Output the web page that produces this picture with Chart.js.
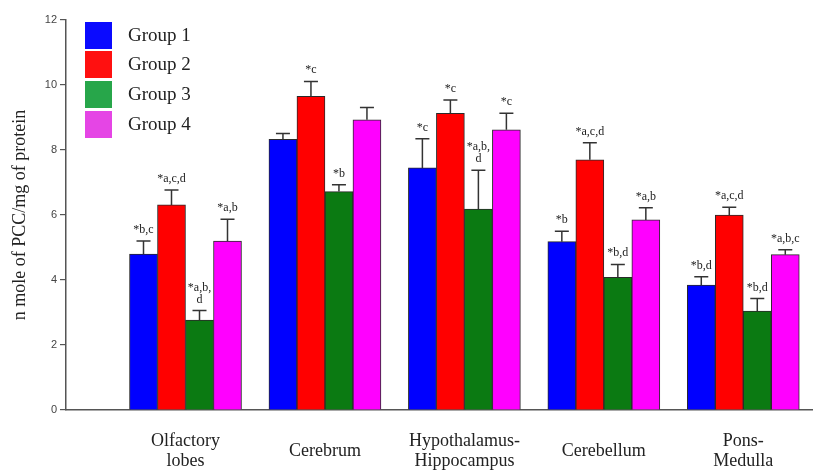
<!DOCTYPE html>
<html>
<head>
<meta charset="utf-8">
<script src="https://cdn.jsdelivr.net/npm/chart.js@4"></script>
<style>
  body { margin: 0; background: #fff; }
  #wrap { width: 813px; height: 475px; }
</style>
</head>
<body>
<div id="wrap"><canvas id="grafico"></canvas></div>
<script>
// categorias (regioes do cerebro)
const categories = [['Olfactory', 'lobes'], 'Cerebrum', ['Hypothalamus-', 'Hippocampus'], 'Cerebellum', ['Pons-', 'Medulla']];
const positions = [1, 2, 3, 4, 5];
const yTicks = [0, 2, 4, 6, 8, 10, 12];

// valores medios de cada grupo
const group1 = [4.80, 8.33, 7.45, 5.18, 3.84];
const group2 = [6.31, 9.65, 9.13, 7.70, 6.00];
const group3 = [2.77, 6.72, 6.18, 4.08, 3.04];
const group4 = [5.20, 8.93, 8.62, 5.85, 4.78];

// barras de erro (so para cima)
const group1Err = [0.40, 0.18, 0.90, 0.32, 0.26];
const group2Err = [0.46, 0.46, 0.41, 0.52, 0.24];
const group3Err = [0.29, 0.21, 1.20, 0.40, 0.39];
const group4Err = [0.67, 0.38, 0.51, 0.37, 0.15];

// letras de significancia
const group1Sig = ['*b,c', '', '*c', '*b', '*b,d'];
const group2Sig = ['*a,c,d', '*c', '*c', '*a,c,d', '*a,c,d'];
const group3Sig = [['*a,b,', 'd'], '*b', ['*a,b,', 'd'], '*b,d', '*b,d'];
const group4Sig = ['*a,b', '', '*c', '*a,b', '*a,b,c'];

const serif = "'Liberation Serif', 'DejaVu Serif', serif";

function pontos(valores) {
	return valores.map((v, i) => ({ x: positions[i], y: v }));
}

function dataset(label, valores, erros, sig, cor, corLegenda) {
	return {
		label: label,
		data: pontos(valores),
		errors: erros,
		sig: sig,
		legendColor: corLegenda,
		backgroundColor: cor,
		borderColor: '#2a2a2a',
		borderWidth: 1,
		barThickness: 28
	};
}

// Plugin para barras de erro e letras
const errorBars = {
	id: 'errorBars',
	afterDatasetsDraw(chart) {
		const ctx = chart.ctx;
		const y = chart.scales.y;
		chart.data.datasets.forEach((ds, di) => {
			const meta = chart.getDatasetMeta(di);
			meta.data.forEach((bar, i) => {
				const top = y.getPixelForValue(ds.data[i].y + ds.errors[i]);
				ctx.save();
				ctx.strokeStyle = '#333';
				ctx.lineWidth = 1.5;
				ctx.beginPath();
				ctx.moveTo(bar.x, bar.y);
				ctx.lineTo(bar.x, top);
				ctx.moveTo(bar.x - 7, top);
				ctx.lineTo(bar.x + 7, top);
				ctx.stroke();

				let linhas = ds.sig[i];
				if (!Array.isArray(linhas)) linhas = [linhas];
				ctx.fillStyle = '#222';
				ctx.font = '12px ' + serif;
				ctx.textAlign = 'center';
				ctx.textBaseline = 'alphabetic';
				for (let k = 0; k < linhas.length; k++) {
					const base = top - 8 - (linhas.length - 1 - k) * 12;
					ctx.fillText(linhas[k], bar.x, base);
				}
				ctx.restore();
			});
		});
	}
};

// Legenda desenhada dentro da area do grafico
const legendaCustom = {
	id: 'legendaCustom',
	afterDraw(chart) {
		const ctx = chart.ctx;
		const centros = [35, 64, 94, 124];
		chart.data.datasets.forEach((ds, i) => {
			ctx.save();
			ctx.fillStyle = ds.legendColor;
			ctx.fillRect(85, centros[i] - 13, 27, 27);
			ctx.fillStyle = '#222';
			ctx.font = '19px ' + serif;
			ctx.textAlign = 'left';
			ctx.textBaseline = 'middle';
			ctx.fillText(ds.label, 128, centros[i] + 1);
			ctx.restore();
		});
	}
};

let grafico = document.getElementById('grafico').getContext('2d');

let chart = new Chart(grafico, {
	type: 'bar',

	data: {
		datasets: [
			dataset('Group 1', group1, group1Err, group1Sig, '#0000ff', '#0a0aff'),
			dataset('Group 2', group2, group2Err, group2Sig, '#ff0000', '#ff1010'),
			dataset('Group 3', group3, group3Err, group3Sig, '#0b7a12', '#27a64a'),
			dataset('Group 4', group4, group4Err, group4Sig, '#ff00ff', '#e545e5')
		]
	},

	options: {
		responsive: true,
		maintainAspectRatio: false,
		animation: false,
		layout: { padding: { top: 20, right: 0, left: 0, bottom: 0 } },
		plugins: {
			legend: { display: false },
			tooltip: { enabled: false }
		},
		scales: {
			x: {
				type: 'linear',
				min: 0.143,
				max: 5.5,
				offset: false,
				afterBuildTicks(scale) {
					scale.ticks = positions.map(p => ({ value: p }));
				},
				afterFit(scale) {
					scale.height = 65;
				},
				grid: { display: false },
				border: { display: true, color: '#555', width: 1.5 },
				ticks: {
					autoSkip: false,
					maxRotation: 0,
					padding: 23,
					crossAlign: 'center',
					color: '#222',
					font: { family: serif, size: 18, lineHeight: 1.1 },
					callback: (v) => categories[positions.indexOf(v)] || ''
				}
			},
			y: {
				min: 0,
				max: 12,
				afterBuildTicks(scale) {
					scale.ticks = yTicks.map(v => ({ value: v }));
				},
				afterFit(scale) {
					scale.width = 66;
				},
				grid: { drawOnChartArea: false, tickLength: 6, color: '#555', lineWidth: 1.2 },
				border: { display: true, color: '#555', width: 1.5 },
				ticks: {
					padding: 3,
					color: '#444',
					font: { family: "'Liberation Sans', Arial, sans-serif", size: 11 }
				},
				title: {
					display: true,
					text: 'n mole of PCC/mg of protein',
					color: '#222',
					padding: { top: 9, bottom: 0 },
					font: { family: serif, size: 18 }
				}
			}
		}
	},

	plugins: [errorBars, legendaCustom]
});
</script>
</body>
</html>
